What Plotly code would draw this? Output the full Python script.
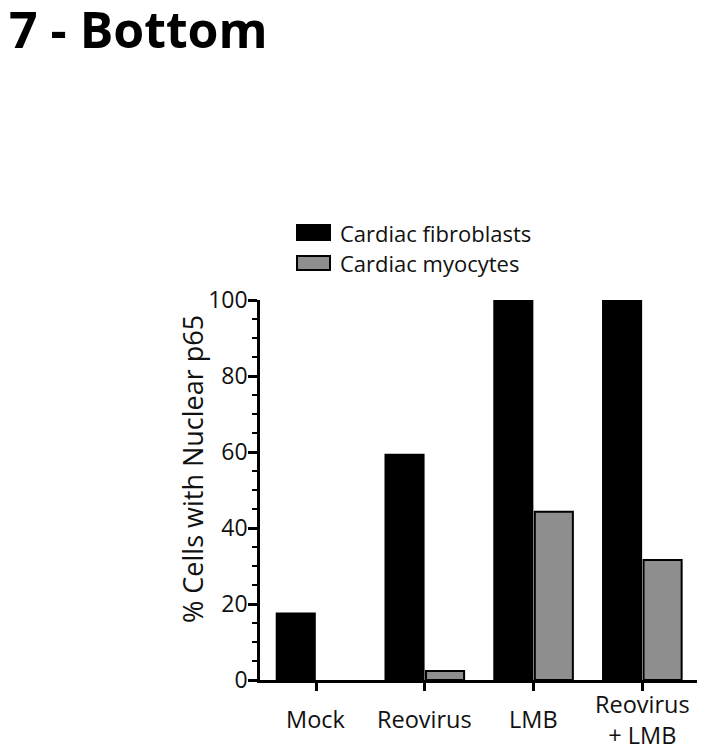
import plotly.graph_objects as go

categories = ["Mock", "Reovirus", "LMB", "Reovirus<br>+ LMB"]
fibroblasts = [17.5, 59.3, 100, 100]
myocytes = [0, 2.4, 44.3, 31.6]
series_names = ["Cardiac fibroblasts", "Cardiac myocytes"]
y_ticks = [0, 20, 40, 60, 80, 100]

FONT = "Open Sans"
BLACK = "#000000"
GRAY = "#8e8e8e"
TXT = "#111111"

xpos = list(range(len(categories)))

# page has an 8px body margin; work in page pixels and convert
OFF = 8
W, H = 705 - OFF, 750 - OFF
PX0, PX1, PY0, PY1 = 260, 700, 300, 680          # plot area in page pixels
L, R = PX0 - OFF, (705 - PX1)
T, B = PY0 - OFF, 750 - PY1


def px(xp):
    return (xp - PX0) / (PX1 - PX0)


def py(yp):
    return (PY1 - yp) / (PY1 - PY0)


fig = go.Figure()
fig.add_trace(go.Bar(x=xpos, y=fibroblasts, name=series_names[0],
                     marker=dict(color=BLACK, line=dict(color=BLACK, width=2))))
fig.add_trace(go.Bar(x=xpos, y=myocytes, name=series_names[1],
                     marker=dict(color=GRAY,
                                 line=dict(color=BLACK,
                                           width=[2 if v > 0 else 0 for v in myocytes]))))

annotations = []
# title
annotations.append(dict(x=px(OFF), y=py(29), xref="paper", yref="paper",
                        text="<b>7 - Bottom</b>", showarrow=False,
                        xanchor="left", yanchor="middle", borderpad=0,
                        font=dict(family=FONT, size=50, color="#000")))
# category labels, centred vertically
for i, c in enumerate(categories):
    annotations.append(dict(x=i, y=py(719), xref="x", yref="paper", text=c,
                            showarrow=False, xanchor="center", yanchor="middle",
                            font=dict(family=FONT, size=23.5, color=TXT)))
# y-axis title
annotations.append(dict(x=px(192), y=py(469), xref="paper", yref="paper",
                        text="% Cells with Nuclear p65", textangle=-90,
                        showarrow=False, xanchor="center", yanchor="middle",
                        font=dict(family=FONT, size=27, color=TXT)))
# legend texts
annotations.append(dict(x=px(338), y=py(233), xref="paper", yref="paper",
                        text=series_names[0], showarrow=False, xanchor="left",
                        yanchor="middle", font=dict(family=FONT, size=22, color=TXT)))
annotations.append(dict(x=px(338), y=py(263), xref="paper", yref="paper",
                        text=series_names[1], showarrow=False, xanchor="left",
                        yanchor="middle", font=dict(family=FONT, size=22, color=TXT)))

shapes = [
    dict(type="rect", xref="paper", yref="paper", x0=px(297), x1=px(330),
         y0=py(240), y1=py(225), fillcolor=BLACK, line=dict(color=BLACK, width=2)),
    dict(type="rect", xref="paper", yref="paper", x0=px(297), x1=px(330),
         y0=py(270), y1=py(256), fillcolor=GRAY, line=dict(color=BLACK, width=2)),
]

fig.update_layout(
    width=W, height=H,
    margin=dict(l=L, r=R, t=T, b=B),
    paper_bgcolor="white", plot_bgcolor="white",
    barmode="group", bargap=0.255, bargroupgap=0.06,
    showlegend=False,
    font=dict(family=FONT, color=TXT),
    annotations=annotations,
    shapes=shapes,
)

fig.update_xaxes(
    range=[-0.515, 3.53], tickvals=xpos, ticktext=[""] * len(xpos),
    showline=True, linecolor=BLACK, linewidth=2.5,
    ticks="outside", ticklen=8, tickwidth=2.5, tickcolor=BLACK,
    showgrid=False, zeroline=False, fixedrange=True,
)
fig.update_yaxes(
    range=[0, 100], tickvals=y_ticks,
    showline=True, linecolor=BLACK, linewidth=2.5,
    ticks="outside", ticklen=9, tickwidth=2.5, tickcolor=BLACK,
    tickfont=dict(family=FONT, size=23, color=TXT),
    ticklabelstandoff=-4,
    minor=dict(dtick=5, ticks="outside", ticklen=5, tickwidth=2, tickcolor=BLACK,
               showgrid=False),
    showgrid=False, zeroline=False,
)

fig.write_html("out.html")
